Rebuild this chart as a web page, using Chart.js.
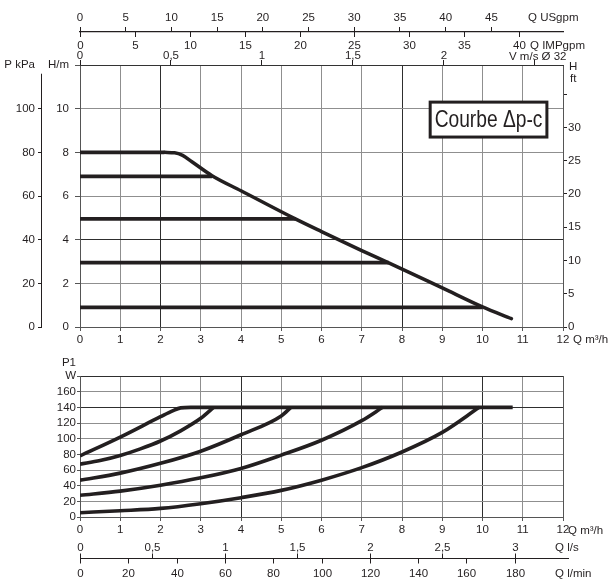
<!DOCTYPE html>
<html><head><meta charset="utf-8">
<script src="https://cdn.jsdelivr.net/npm/chart.js@4.4.0/dist/chart.umd.min.js"></script>
<style>
html,body{margin:0;padding:0;background:#fff;}
#wrap{position:relative;width:615px;height:582px;overflow:hidden;}
canvas{position:absolute;left:0;}
#c1{top:0}
#c2{top:348px}
</style></head><body>
<div id="wrap"><canvas id="c1" width="615" height="348"></canvas><canvas id="c2" width="615" height="234"></canvas></div>
<script>
// ---------------- data ----------------
const flowTicks = [0,1,2,3,4,5,6,7,8,9,10,11,12];          // Q m3/h
const headTicks = [0,2,4,6,8,10,12];                       // H m
const kpaTicks = [0,20,40,60,80,100,120];                  // P kPa
const ftTicks = [0,5,10,15,20,25,30,35];                   // H ft
const velTicks = [0,0.5,1,1.5,2,2.5];                      // V m/s
const usgpmTicks = [0,5,10,15,20,25,30,35,40,45];
const impgpmTicks = [0,5,10,15,20,25,30,35,40];
const powerTicks = [0,20,40,60,80,100,120,140,160,180];    // P1 W
const lsTicks = [0,0.5,1,1.5,2,2.5,3];
const lminTicks = [0,20,40,60,80,100,120,140,160,180];

// constant-pressure levels (H m) and where they end (Q m3/h)
const constHead = [8, 6.9, 4.95, 2.95, 0.9];
const constHeadEnd = [2.1, 3.28, 5.35, 7.67, 10.0];
// proportional curve
const dpcFlow = [2.1, 2.35, 2.55, 2.78, 3.28, 4.0, 5.35, 6.0, 7.0, 7.67, 9.0, 10.0, 10.72];
const dpcHead = [8.0, 7.98, 7.86, 7.57, 6.93, 6.24, 4.95, 4.37, 3.5, 2.94, 1.79, 0.92, 0.38];

// power curves P1 (W)
const p1Flow1 = [0, 1, 2, 2.3, 2.5, 2.75, 10.75];
const p1Power1 = [78, 102, 128, 135.5, 139.3, 140, 140];
const p1Flow2 = [0, 0.5, 1, 1.5, 2, 2.5, 3, 3.32];
const p1Power2 = [67.5, 72, 78.5, 87, 97, 110, 126, 140];
const p1Flow3 = [0, 1, 2, 3, 4, 5, 5.24];
const p1Power3 = [47, 56, 68.5, 84, 105, 129, 140];
const p1Flow4 = [0, 1, 2, 3, 4, 5, 6, 7, 7.52];
const p1Power4 = [27.7, 33, 40.5, 50, 62, 79, 98, 123, 140];
const p1Flow5 = [0, 1, 2, 3, 4, 5, 6, 7, 8, 9, 9.92];
const p1Power5 = [5.5, 8, 11, 17, 24.7, 34, 47, 63, 83, 108, 140];

// unit conversions
const M3H_TO_USGPM = 4.40287;
const M3H_TO_IMPGPM = 3.66615;
const M_TO_FT = 3.28084;
const VEL_PER_M3H = 0.2212;      // m/s per m3/h, pipe Ø 32
const M3H_TO_LS = 1 / 3.6;
const M3H_TO_LMIN = 1000 / 60;

// ---------------- style ----------------
const FONT = "'Liberation Sans', Arial, Helvetica, sans-serif";
const FS = 11.5;
const INK = '#231f20';
const GRID = '#8f8f8f';
const GRID_DARK = '#2e2e2e';
const EDGE = '#555555';
const tickFont = {family: FONT, size: FS};
const fmt = v => String(Math.round(v * 100) / 100).replace('.', ',');
const setTicks = arr => s => { s.ticks = arr.map(v => ({value: v})); };
const tv = c => (c.tick ? c.tick.value : null);

function pts(xs, ys) { return xs.map((x, i) => ({x: x, y: ys[i]})); }

// ---------------- top chart plugin ----------------
const topExtras = {
  id: 'topExtras',
  afterDraw(chart) {
    const {ctx, chartArea: a, scales} = chart;
    const x = scales.x, yk = scales.yk, yh = scales.y, xus = scales.xus;
    ctx.save();
    ctx.fillStyle = INK; ctx.strokeStyle = INK; ctx.lineWidth = 1;
    ctx.font = FS + 'px ' + FONT;
    ctx.textBaseline = 'middle';
    // IMP gpm ticks below gpm line
    const lineY = xus.bottom;
    ctx.textAlign = 'center';
    impgpmTicks.forEach(v => {
      const px = Math.round(x.getPixelForValue(v / M3H_TO_IMPGPM)) + 0.5;
      ctx.beginPath(); ctx.moveTo(px, lineY); ctx.lineTo(px, lineY + 5); ctx.stroke();
      ctx.fillText(String(v), px, lineY + 14);
    });
    // axis names
    ctx.textAlign = 'left';
    ctx.fillText('Q USgpm', a.right - 35, lineY - 14.5);
    ctx.fillText('Q IMPgpm', a.right - 33, lineY + 14);
    ctx.fillText('V m/s \u00D8 32', a.right - 54, a.top - 8);
    ctx.fillText('H', a.right + 6, a.top + 2);
    ctx.fillText('ft', a.right + 7, a.top + 14);
    ctx.fillText('Q m\u00B3/h', a.right + 10, a.bottom + 13);
    // kPa axis line
    const kx = Math.round(yk.right) - 0.5;
    ctx.beginPath();
    ctx.moveTo(kx, yk.getPixelForValue(116)); ctx.lineTo(kx, yk.getPixelForValue(0));
    ctx.stroke();
    // "Courbe Δp-c" label box
    const bx0 = x.getPixelForValue(8.7), bx1 = x.getPixelForValue(11.6);
    const by0 = yh.getPixelForValue(10.3), by1 = yh.getPixelForValue(8.7);
    ctx.fillStyle = '#fff';
    ctx.fillRect(bx0, by0, bx1 - bx0, by1 - by0);
    ctx.lineWidth = 3; ctx.strokeStyle = INK;
    ctx.strokeRect(bx0, by0, bx1 - bx0, by1 - by0);
    ctx.fillStyle = INK;
    ctx.font = '24px ' + FONT;
    ctx.textAlign = 'center';
    ctx.fillText('Courbe \u0394p-c', (bx0 + bx1) / 2, (by0 + by1) / 2 + 1, (bx1 - bx0) - 9);
    ctx.restore();
  }
};

const gridX1 = c => { const v = tv(c); return (v === 2 || v === 8) ? GRID_DARK : (v === 0 || v === 12) ? EDGE : GRID; };
const gridY1 = c => { const v = tv(c); return (v === 4) ? GRID_DARK : (v === 0 || v === 12) ? EDGE : GRID; };

const lineStyle = {borderColor: INK, borderWidth: 3.8, pointRadius: 0, fill: false, xAxisID: 'x', yAxisID: 'y'};

new Chart(document.getElementById('c1'), {
  type: 'line',
  data: {
    datasets: constHead.map((h, i) => Object.assign({}, lineStyle, {
      data: [{x: 0, y: h}, {x: constHeadEnd[i], y: h}], borderCapStyle: 'butt'
    })).concat([Object.assign({}, lineStyle, {
      data: pts(dpcFlow, dpcHead), cubicInterpolationMode: 'monotone',
      borderCapStyle: 'round', borderJoinStyle: 'round', borderWidth: 3.5
    })])
  },
  options: {
    responsive: false, animation: false, devicePixelRatio: 1,
    layout: {padding: 0},
    plugins: {legend: {display: false}, tooltip: {enabled: false}},
    scales: {
      x: {
        type: 'linear', position: 'bottom', min: 0, max: 12,
        afterBuildTicks: setTicks(flowTicks),
        afterFit: s => { s.height = 21; },
        ticks: {font: tickFont, color: INK, padding: 2, maxRotation: 0, autoSkip: false},
        grid: {color: gridX1, tickColor: EDGE, tickLength: 4, lineWidth: 1},
        border: {color: EDGE}
      },
      y: {
        type: 'linear', position: 'left', min: 0, max: 12, weight: 0,
        afterBuildTicks: setTicks(headTicks),
        afterFit: s => { s.width = 38; },
        ticks: {font: tickFont, color: INK, padding: 6, autoSkip: false,
          callback: v => (v === 12 ? 'H/m' : String(v))},
        grid: {color: gridY1, tickColor: EDGE, tickLength: 5, lineWidth: 1},
        border: {color: EDGE}
      },
      yk: {
        type: 'linear', position: 'left', min: 0, max: 120, weight: 1,
        afterBuildTicks: setTicks(kpaTicks),
        afterFit: s => { s.width = 42; },
        ticks: {font: tickFont, color: INK, padding: 3, autoSkip: false,
          callback: v => (v === 120 ? 'P kPa' : String(v))},
        grid: {drawOnChartArea: false, tickLength: 4,
          color: c => (tv(c) === 120 ? 'rgba(0,0,0,0)' : INK)},
        border: {display: false}
      },
      yft: {
        type: 'linear', position: 'right', min: 0, max: 12 * M_TO_FT,
        afterBuildTicks: setTicks(ftTicks),
        afterFit: s => { s.width = 52; },
        ticks: {font: tickFont, color: INK, padding: 1, autoSkip: false,
          callback: v => (v >= 35 ? '' : String(v))},
        grid: {drawOnChartArea: false, tickLength: 4, color: INK},
        border: {color: EDGE}
      },
      xv: {
        type: 'linear', position: 'top', min: 0, max: 12 * VEL_PER_M3H, weight: 0,
        afterBuildTicks: setTicks(velTicks),
        afterFit: s => { s.height = 33; },
        ticks: {font: tickFont, color: INK, padding: -3, maxRotation: 0, autoSkip: false,
          callback: v => (v === 2.5 ? '' : fmt(v))},
        grid: {drawOnChartArea: false, tickLength: 5, color: INK},
        border: {color: '#333'}
      },
      xus: {
        type: 'linear', position: 'top', min: 0, max: 12 * M3H_TO_USGPM, weight: 1,
        afterBuildTicks: setTicks(usgpmTicks),
        afterFit: s => { s.height = 32; },
        ticks: {font: tickFont, color: INK, padding: 2.5, maxRotation: 0, autoSkip: false},
        grid: {drawOnChartArea: false, tickLength: 5, color: INK},
        border: {color: INK, width: 1.2}
      }
    }
  },
  plugins: [topExtras]
});

// ---------------- bottom chart ----------------
const bottomExtras = {
  id: 'bottomExtras',
  afterDraw(chart) {
    const {ctx, chartArea: a, scales} = chart;
    const x = scales.x;
    ctx.save();
    ctx.fillStyle = INK; ctx.strokeStyle = INK; ctx.lineWidth = 1;
    ctx.font = FS + 'px ' + FONT;
    ctx.textBaseline = 'middle';
    ctx.textAlign = 'left';
    ctx.fillText('Q m\u00B3/h', a.right + 5, a.bottom + 14);
    ctx.textAlign = 'right';
    ctx.fillText('P1', a.left - 4, a.top - 13);
    // l/s and l/min axis
    const ly = Math.round(a.bottom + 41) + 0.5;
    ctx.lineWidth = 1.2;
    ctx.beginPath(); ctx.moveTo(a.left, ly); ctx.lineTo(a.right + 6, ly); ctx.stroke();
    ctx.lineWidth = 1;
    ctx.textAlign = 'center';
    lsTicks.forEach(v => {
      const px = Math.round(x.getPixelForValue(v / M3H_TO_LS)) + 0.5;
      ctx.beginPath(); ctx.moveTo(px, ly); ctx.lineTo(px, ly - 5); ctx.stroke();
      ctx.fillText(fmt(v), px, ly - 11);
    });
    lminTicks.forEach(v => {
      const px = Math.round(x.getPixelForValue(v / M3H_TO_LMIN)) + 0.5;
      ctx.beginPath(); ctx.moveTo(px, ly); ctx.lineTo(px, ly + 5); ctx.stroke();
      ctx.fillText(String(v), px, ly + 15);
    });
    ctx.textAlign = 'left';
    ctx.fillText('Q l/s', a.right - 8, ly - 11);
    ctx.fillText('Q l/min', a.right - 8, ly + 15);
    ctx.restore();
  }
};

const gridX2 = c => { const v = tv(c); return (v === 4 || v === 10) ? GRID_DARK : (v === 0 || v === 12) ? EDGE : GRID; };
const gridY2 = c => { const v = tv(c); return (v === 140 || v === 180) ? GRID_DARK : (v === 0) ? EDGE : GRID; };

const pStyle = {borderColor: INK, borderWidth: 3.6, pointRadius: 0, fill: false,
  cubicInterpolationMode: 'monotone', borderCapStyle: 'butt', borderJoinStyle: 'round'};

new Chart(document.getElementById('c2'), {
  type: 'line',
  data: {
    datasets: [
      Object.assign({}, pStyle, {data: pts(p1Flow1, p1Power1)}),
      Object.assign({}, pStyle, {data: pts(p1Flow2, p1Power2)}),
      Object.assign({}, pStyle, {data: pts(p1Flow3, p1Power3)}),
      Object.assign({}, pStyle, {data: pts(p1Flow4, p1Power4)}),
      Object.assign({}, pStyle, {data: pts(p1Flow5, p1Power5)})
    ]
  },
  options: {
    responsive: false, animation: false, devicePixelRatio: 1,
    layout: {padding: {top: 28, right: 52, left: 0, bottom: 0}},
    plugins: {legend: {display: false}, tooltip: {enabled: false}},
    scales: {
      x: {
        type: 'linear', position: 'bottom', min: 0, max: 12,
        afterBuildTicks: setTicks(flowTicks),
        afterFit: s => { s.height = 65; },
        ticks: {font: tickFont, color: INK, padding: 2, maxRotation: 0, autoSkip: false},
        grid: {color: gridX2, tickColor: EDGE, tickLength: 4},
        border: {color: EDGE}
      },
      y: {
        type: 'linear', position: 'left', min: 0, max: 180,
        afterBuildTicks: setTicks(powerTicks),
        afterFit: s => { s.width = 80; },
        ticks: {font: tickFont, color: INK, padding: 1, autoSkip: false,
          callback: v => (v === 180 ? 'W' : String(v))},
        grid: {color: gridY2, tickColor: EDGE, tickLength: 3},
        border: {color: EDGE}
      }
    }
  },
  plugins: [bottomExtras]
});
</script>
</body></html>
